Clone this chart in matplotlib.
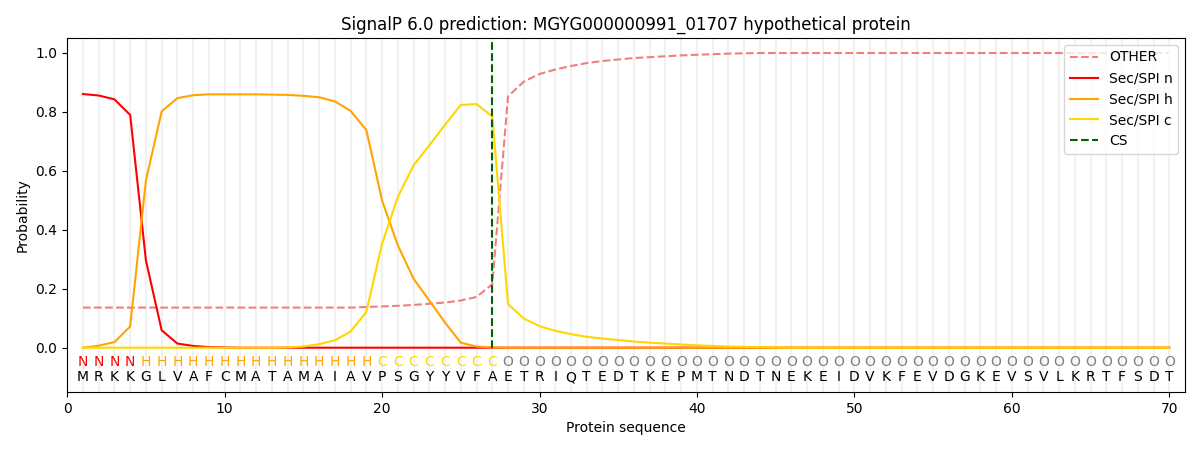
import matplotlib
matplotlib.use("Agg")
import matplotlib.pyplot as plt
import numpy as np

sequence = list("MRKKGLVAFCMATAMAIAVPSGYYVFAETRIQTEDTKEPMTNDTNEKEIDVKFEVDGKEVSVLKRTFSDT")
labels = list("NNNN" + "H" * 15 + "C" * 8 + "O" * 43)
positions = list(range(1, 71))

other = [0.136] * 18 + [0.138, 0.140, 0.142, 0.145, 0.149, 0.153, 0.160, 0.172, 0.215,
         0.852, 0.902, 0.928, 0.943, 0.955, 0.965, 0.972, 0.977, 0.982, 0.985, 0.988,
         0.991, 0.993, 0.995, 0.997, 0.998, 0.999] + [0.999] * 26
sec_n = [0.860, 0.855, 0.842, 0.789, 0.296, 0.059, 0.014, 0.006, 0.002, 0.001] + [0.0] * 60
sec_h = [0.0, 0.007, 0.019, 0.072, 0.567, 0.801, 0.846, 0.856, 0.859, 0.859, 0.859, 0.859,
         0.858, 0.857, 0.854, 0.849, 0.835, 0.803, 0.738, 0.499, 0.347, 0.234, 0.160, 0.085,
         0.017, 0.004, 0.001] + [0.0] * 43
sec_c = [0.0] * 13 + [0.001, 0.004, 0.012, 0.025, 0.055, 0.121, 0.353, 0.511, 0.618, 0.686,
         0.756, 0.823, 0.826, 0.784, 0.148, 0.099, 0.073, 0.057, 0.046, 0.037, 0.031, 0.026,
         0.021, 0.017, 0.014, 0.011, 0.008, 0.006, 0.004, 0.003, 0.002, 0.001] + [0.0] * 25
cs_pos = 27

label_colors = {"N": "red", "H": "orange", "C": "gold", "O": "gray"}

fig, ax = plt.subplots(figsize=(12, 4.5), dpi=100)

for p in positions:
    ax.axvline(p, color="lightgray", alpha=0.3, linewidth=1.5, zorder=0)

ax.plot(positions, other, linestyle="--", color="lightcoral", label="OTHER")
ax.plot(positions, sec_n, color="red", label="Sec/SPI n")
ax.plot(positions, sec_h, color="orange", label="Sec/SPI h")
ax.plot(positions, sec_c, color="gold", label="Sec/SPI c")
ax.vlines(cs_pos, 0, 1.035, colors="darkgreen", linestyles="--", label="CS")

for p, lab, aa in zip(positions, labels, sequence):
    ax.text(p, -0.05, lab, color=label_colors[lab], ha="center", va="center", fontsize=10)
    ax.text(p, -0.10, aa, color="black", ha="center", va="center", fontsize=10)

ax.set_xlim(0, 71)
ax.set_ylim(-0.15, 1.05)
ax.set_yticks([0.0, 0.2, 0.4, 0.6, 0.8, 1.0])
ax.set_xlabel("Protein sequence")
ax.set_ylabel("Probability")
ax.set_title("SignalP 6.0 prediction: MGYG000000991_01707 hypothetical protein")
ax.legend(loc="upper right")

fig.subplots_adjust(left=0.056, right=0.9875, top=0.9156, bottom=0.129)
fig.savefig("out.png")
